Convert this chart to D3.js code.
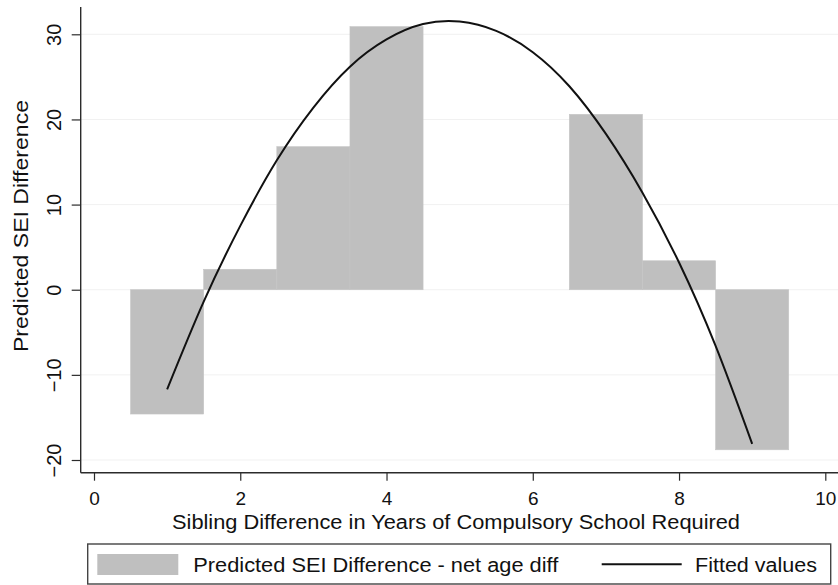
<!DOCTYPE html>
<html>
<head>
<meta charset="utf-8">
<script src="https://cdn.jsdelivr.net/npm/d3@7"></script>
<style>
  html, body { margin: 0; padding: 0; background: #fff; }
  svg { display: block; font-family: "Liberation Sans", Arial, Helvetica, sans-serif; }
</style>
</head>
<body>
<svg id="chart" width="838" height="585"></svg>
<script>
// Years of compulsory schooling difference (bar centres) and predicted SEI difference
const schoolYears = [1, 2, 3, 4, 7, 8, 9];
const seiDiff = [-14.6, 2.4, 16.8, 30.9, 20.6, 3.4, -18.8];

// Quadratic fitted values along the x range
const fitX = [1, 1.5, 2, 2.5, 3, 3.5, 4, 4.5, 5, 5.5, 6, 6.5, 7, 7.5, 8, 8.5, 9];
const fitY = [-11.7, -1.4, 7.5, 15.2, 21.4, 26.2, 29.4, 31.2, 31.5, 30.4, 27.9, 23.9, 18.3, 11.4, 3.2, -6.6, -18.1];

const xTicks = [0, 2, 4, 6, 8, 10];
const yTicks = [-20, -10, 0, 10, 20, 30];

const xTitle = "Sibling Difference in Years of Compulsory School Required";
const yTitle = "Predicted SEI Difference";
const legendLabels = ["Predicted SEI Difference - net age diff", "Fitted values"];

const svg = d3.select("#chart");

const x = d3.scaleLinear().domain([0, 10]).range([94, 825.3]);
const y = d3.scaleLinear().domain([-20, 30]).range([460, 34.3]);

const plotLeft = 80.7, plotRight = 838, plotTop = 7, plotBottom = 472.7;
const axisColor = "#2b2b2b";
const fontStack = "'Liberation Sans', Arial, sans-serif";

// faint horizontal grid at the y ticks
svg.append("g")
  .selectAll("line")
  .data(yTicks)
  .join("line")
  .attr("x1", plotLeft).attr("x2", plotRight)
  .attr("y1", d => y(d)).attr("y2", d => y(d))
  .attr("stroke", "#f1f1f1").attr("stroke-width", 1);

// bars, one unit wide, drawn from zero
svg.append("g")
  .selectAll("rect")
  .data(schoolYears.map((s, i) => ({ s, v: seiDiff[i] })))
  .join("rect")
  .attr("x", d => x(d.s - 0.5))
  .attr("width", d => x(d.s + 0.5) - x(d.s - 0.5))
  .attr("y", d => y(Math.max(0, d.v)))
  .attr("height", d => Math.abs(y(d.v) - y(0)))
  .attr("fill", "#bfbfbf")
  .attr("stroke", "#c5c5c5")
  .attr("stroke-width", 0.6);

// fitted curve
const line = d3.line()
  .x(d => x(d[0]))
  .y(d => y(d[1]))
  .curve(d3.curveNatural);
svg.append("path")
  .datum(fitX.map((v, i) => [v, fitY[i]]))
  .attr("d", line)
  .attr("fill", "none")
  .attr("stroke", "#111")
  .attr("stroke-width", 2);

// axis lines
svg.append("line")
  .attr("x1", plotLeft).attr("x2", plotLeft)
  .attr("y1", plotTop).attr("y2", plotBottom)
  .attr("stroke", axisColor).attr("stroke-width", 1.4);
svg.append("line")
  .attr("x1", plotLeft).attr("x2", plotRight)
  .attr("y1", plotBottom).attr("y2", plotBottom)
  .attr("stroke", axisColor).attr("stroke-width", 1.4);

// x axis ticks and labels
const gx = svg.append("g")
  .attr("transform", `translate(0,${plotBottom})`)
  .call(d3.axisBottom(x).tickValues(xTicks).tickSize(8).tickFormat(d3.format("d")));
gx.select(".domain").remove();
gx.selectAll(".tick line").attr("stroke", axisColor).attr("stroke-width", 1.2);
gx.selectAll(".tick text")
  .attr("y", 32.5).attr("dy", null)
  .attr("fill", "#111")
  .style("font-size", "19px")
  .style("font-family", fontStack);

// y axis ticks and rotated labels
const gy = svg.append("g")
  .attr("transform", `translate(${plotLeft},0)`)
  .call(d3.axisLeft(y).tickValues(yTicks).tickSize(9).tickFormat(d3.format("d")));
gy.select(".domain").remove();
gy.selectAll(".tick line").attr("stroke", axisColor).attr("stroke-width", 1.2);
gy.selectAll(".tick text")
  .attr("x", null).attr("dy", null)
  .attr("text-anchor", "middle")
  .attr("transform", "translate(-20,0) rotate(-90)")
  .attr("fill", "#111")
  .style("font-size", "20px")
  .style("font-family", fontStack);

// axis titles
svg.append("text")
  .attr("x", 456).attr("y", 528.5)
  .attr("text-anchor", "middle")
  .attr("font-size", 20)
  .attr("fill", "#111")
  .attr("textLength", 568)
  .attr("lengthAdjust", "spacingAndGlyphs")
  .text(xTitle);

svg.append("text")
  .attr("transform", "translate(28,226) rotate(-90)")
  .attr("text-anchor", "middle")
  .attr("font-size", 21)
  .attr("fill", "#111")
  .attr("textLength", 252)
  .attr("lengthAdjust", "spacingAndGlyphs")
  .text(yTitle);

// legend
const lg = svg.append("g");
lg.append("rect")
  .attr("x", 87.7).attr("y", 544)
  .attr("width", 743).attr("height", 40)
  .attr("fill", "#fff")
  .attr("stroke", "#444").attr("stroke-width", 1.4);
lg.append("rect")
  .attr("x", 97.3).attr("y", 554)
  .attr("width", 81).attr("height", 21)
  .attr("fill", "#bfbfbf");
lg.append("text")
  .attr("x", 193.3).attr("y", 571.7)
  .attr("font-size", 20).attr("fill", "#111")
  .attr("textLength", 365)
  .attr("lengthAdjust", "spacingAndGlyphs")
  .text(legendLabels[0]);
lg.append("line")
  .attr("x1", 601.7).attr("x2", 681.7)
  .attr("y1", 564.3).attr("y2", 564.3)
  .attr("stroke", "#111").attr("stroke-width", 2);
lg.append("text")
  .attr("x", 695).attr("y", 571.7)
  .attr("font-size", 20).attr("fill", "#111")
  .attr("textLength", 122)
  .attr("lengthAdjust", "spacingAndGlyphs")
  .text(legendLabels[1]);
</script>
</body>
</html>
